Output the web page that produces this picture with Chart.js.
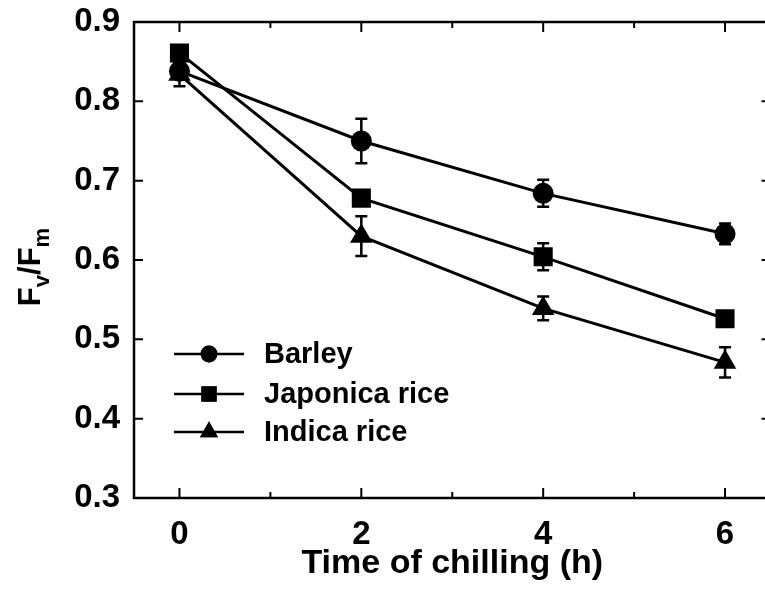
<!DOCTYPE html>
<html>
<head>
<meta charset="utf-8">
<script src="https://cdn.jsdelivr.net/npm/chart.js@4.4.1/dist/chart.umd.min.js"></script>
<style>
  html, body { margin: 0; padding: 0; background: #fff; overflow: hidden; }
  #wrap { position: relative; width: 784px; height: 597px; }
</style>
</head>
<body>
<div id="wrap"><canvas id="chart"></canvas></div>
<script>
// Chilling time (h)
const hours = [0, 2, 4, 6];
// Fv/Fm means and standard errors
const barley      = [0.838, 0.750, 0.684, 0.633];
const barleyErr   = [0.010, 0.028, 0.017, 0.013];
const japonica    = [0.861, 0.678, 0.604, 0.526];
const japonicaErr = [0.006, 0.009, 0.017, 0.005];
const indica      = [0.834, 0.630, 0.539, 0.471];
const indicaErr   = [0.015, 0.025, 0.015, 0.019];

const seriesNames = ['Barley', 'Japonica rice', 'Indica rice'];
const xTicks = [0, 2, 4, 6];
const xMinorTicks = [1, 3, 5];
const yTicks = [0.3, 0.4, 0.5, 0.6, 0.7, 0.8, 0.9];

const FONT = "'Liberation Sans', Arial, Helvetica, sans-serif";

function points(values) {
  return hours.map((h, i) => ({ x: h, y: values[i] }));
}

const errors = [barleyErr, japonicaErr, indicaErr];

const baseSet = {
  borderColor: '#000',
  backgroundColor: '#000',
  pointBackgroundColor: '#000',
  pointBorderColor: '#000',
  borderWidth: 3,
  pointBorderWidth: 0,
  tension: 0,
  fill: false
};

// Scale paddings from label overhang are dropped so the layout padding alone sets the plot box
function noOverhang(s) {
  s.paddingTop = 0; s.paddingBottom = 0; s.paddingLeft = 0; s.paddingRight = 0;
}

// Box around the plot with inward ticks on all four sides
const frameTicks = {
  id: 'frameTicks',
  afterDraw(chart) {
    const { ctx, chartArea: a, scales: { x, y } } = chart;
    ctx.save();
    ctx.strokeStyle = '#000';
    ctx.lineWidth = 2.5;
    ctx.strokeRect(a.left, a.top, a.right - a.left, a.bottom - a.top);
    ctx.lineWidth = 2;
    ctx.beginPath();
    const xt = (v, len) => {
      const px = x.getPixelForValue(v);
      ctx.moveTo(px, a.bottom); ctx.lineTo(px, a.bottom - len);
      ctx.moveTo(px, a.top); ctx.lineTo(px, a.top + len);
    };
    xTicks.forEach(v => xt(v, 10));
    xMinorTicks.forEach(v => xt(v, 6));
    yTicks.slice(1, -1).forEach(v => {
      const py = y.getPixelForValue(v);
      ctx.moveTo(a.left, py); ctx.lineTo(a.left + 9, py);
      ctx.moveTo(a.right, py); ctx.lineTo(a.right - 9, py);
    });
    ctx.stroke();
    ctx.restore();
  }
};

// Vertical error bars with caps
const errorBars = {
  id: 'errorBars',
  afterDatasetsDraw(chart) {
    const { ctx, scales: { x, y } } = chart;
    ctx.save();
    ctx.strokeStyle = '#000';
    ctx.lineWidth = 2.5;
    chart.data.datasets.forEach((ds, i) => {
      ds.data.forEach((p, j) => {
        const e = errors[i][j];
        const px = x.getPixelForValue(p.x);
        const top = y.getPixelForValue(p.y + e);
        const bot = y.getPixelForValue(p.y - e);
        ctx.beginPath();
        ctx.moveTo(px, top); ctx.lineTo(px, bot);
        ctx.moveTo(px - 6, top); ctx.lineTo(px + 6, top);
        ctx.moveTo(px - 6, bot); ctx.lineTo(px + 6, bot);
        ctx.stroke();
      });
    });
    ctx.restore();
  }
};

// Legend inside the plot, lower left
const insetLegend = {
  id: 'insetLegend',
  afterDraw(chart) {
    const { ctx, chartArea: a } = chart;
    const x0 = a.left + 40, x1 = a.left + 110, xm = a.left + 75, xt = a.left + 130;
    const rows = [a.top + 332, a.top + 372, a.top + 410];
    ctx.save();
    ctx.fillStyle = '#000';
    ctx.strokeStyle = '#000';
    ctx.font = 'bold 29px ' + FONT;
    ctx.textBaseline = 'middle';
    chart.data.datasets.forEach((ds, i) => {
      const yy = rows[i];
      ctx.lineWidth = 2.5;
      ctx.beginPath();
      ctx.moveTo(x0, yy); ctx.lineTo(x1, yy);
      ctx.stroke();
      Chart.helpers.drawPoint(ctx, {
        pointStyle: ds.pointStyle,
        radius: ds.pointRadius * 0.8,
        borderWidth: 0,
        rotation: 0
      }, xm, yy);
      ctx.fill();
      ctx.fillText(ds.label, xt, yy + 1);
    });
    ctx.restore();
  }
};

// Rotated y-axis title with subscripts: Fv/Fm
const yTitle = {
  id: 'yTitle',
  afterDraw(chart) {
    const { ctx } = chart;
    const parts = [
      { t: 'F', size: 31, dy: 0 },
      { t: 'v', size: 22, dy: 9 },
      { t: '/F', size: 31, dy: 0 },
      { t: 'm', size: 22, dy: 9 }
    ];
    ctx.save();
    ctx.translate(40, 267);
    ctx.rotate(-Math.PI / 2);
    ctx.fillStyle = '#000';
    ctx.textBaseline = 'alphabetic';
    ctx.textAlign = 'left';
    let total = 0;
    parts.forEach(p => { ctx.font = 'bold ' + p.size + 'px ' + FONT; p.w = ctx.measureText(p.t).width; total += p.w; });
    let u = -total / 2;
    parts.forEach(p => {
      ctx.font = 'bold ' + p.size + 'px ' + FONT;
      ctx.fillText(p.t, u, p.dy);
      u += p.w;
    });
    ctx.restore();
  }
};

new Chart(document.getElementById('chart'), {
  type: 'line',
  data: {
    datasets: [
      Object.assign({}, baseSet, { label: seriesNames[0], data: points(barley), pointStyle: 'circle', pointRadius: 10.5 }),
      Object.assign({}, baseSet, { label: seriesNames[1], data: points(japonica), pointStyle: 'rect', pointRadius: 13.5 }),
      Object.assign({}, baseSet, { label: seriesNames[2], data: points(indica), pointStyle: 'triangle', pointRadius: 13 })
    ]
  },
  options: {
    responsive: true,
    maintainAspectRatio: false,
    animation: false,
    devicePixelRatio: 1,
    layout: { padding: { top: 22, right: 10, bottom: 0, left: 0 } },
    plugins: { legend: { display: false }, tooltip: { enabled: false } },
    scales: {
      x: {
        type: 'linear',
        min: -0.5,
        max: 6.5,
        afterBuildTicks: s => { s.ticks = xTicks.map(v => ({ value: v })); },
        afterFit: s => { s.height = 99; noOverhang(s); },
        grid: { display: false, drawTicks: false },
        border: { display: false },
        ticks: { color: '#000', padding: 17, font: { family: FONT, size: 33, weight: 'bold' } },
        title: {
          display: true,
          text: 'Time of chilling (h)',
          color: '#000',
          padding: { top: 0, bottom: 13 },
          font: { family: FONT, size: 34, weight: 'bold' }
        }
      },
      y: {
        type: 'linear',
        min: 0.3,
        max: 0.9,
        afterBuildTicks: s => { s.ticks = yTicks.map(v => ({ value: v })); },
        afterFit: s => { s.width = 134; noOverhang(s); },
        grid: { display: false, drawTicks: false },
        border: { display: false },
        ticks: { color: '#000', padding: 14, font: { family: FONT, size: 33, weight: 'bold' }, callback: v => v.toFixed(1) }
      }
    }
  },
  plugins: [frameTicks, errorBars, insetLegend, yTitle]
});
</script>
</body>
</html>
